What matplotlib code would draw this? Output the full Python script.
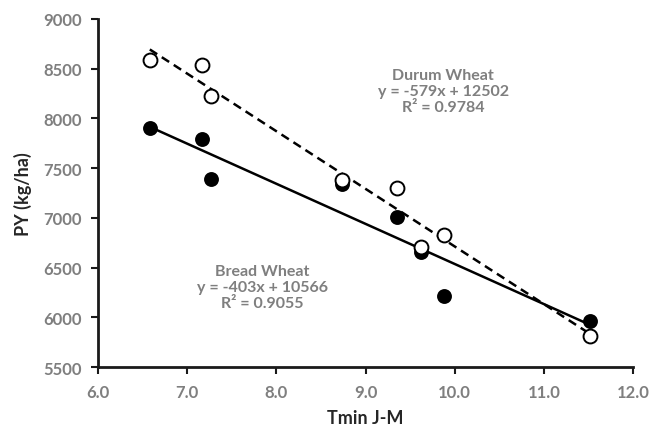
import numpy as np
import matplotlib
matplotlib.use('Agg')
from matplotlib import pyplot as plt

# Tmin J-M (same x for both series)
tmin = [6.58, 7.16, 7.27, 8.73, 9.35, 9.62, 9.88, 11.52]
# PY (kg/ha)
durum = [8585, 8535, 8222, 7385, 7300, 6710, 6828, 5812]
bread = [7898, 7792, 7392, 7340, 7008, 6652, 6215, 5962]

# trendline coefficients as printed on the chart
durum_slope, durum_icpt, durum_r2 = -579, 12502, 0.9784
bread_slope, bread_icpt, bread_r2 = -403, 10566, 0.9055

plt.rcParams['font.family'] = ['Lato', 'DejaVu Sans']

fig = plt.figure(figsize=(6.54, 4.31), dpi=100)
ax = fig.add_axes([0.15, 0.146, 0.818, 0.808])

x_line = np.array([min(tmin), max(tmin)])
ax.plot(x_line, durum_slope * x_line + durum_icpt, color='black', lw=1.8,
        ls=(0, (3.5, 2.2)), zorder=2)
ax.plot(x_line, bread_slope * x_line + bread_icpt, color='black', lw=1.8, zorder=2)

ax.plot(tmin, bread, 'o', color='black', ms=9.5, mew=1.2, mfc='black', zorder=3)
ax.plot(tmin, durum, 'o', color='black', ms=10, mew=1.4, mfc='white', zorder=4)

gray = '#7f7f7f'
ax.text(9.87, 8510, 'Durum Wheat\ny = %dx + %d\nR² = %.4f' % (durum_slope, durum_icpt, durum_r2),
        ha='center', va='top', color=gray, fontsize=11.5, fontweight='bold', linespacing=1.2)
ax.text(7.84, 6540, 'Bread Wheat\ny = %dx + %d\nR² = %.4f' % (bread_slope, bread_icpt, bread_r2),
        ha='center', va='top', color=gray, fontsize=11.5, fontweight='bold', linespacing=1.2)

ax.set_xlim(6.0, 12.0)
ax.set_ylim(5500, 9000)
ax.set_xticks(np.arange(6.0, 12.01, 1.0))
ax.set_xticklabels(['%.1f' % v for v in np.arange(6.0, 12.01, 1.0)])
ax.set_yticks(np.arange(5500, 9001, 500))

for s in ['top', 'right']:
    ax.spines[s].set_visible(False)
for s in ['left', 'bottom']:
    ax.spines[s].set_linewidth(2)
    ax.spines[s].set_color('#1a1a1a')
ax.tick_params(direction='out', length=5, width=1.5, color='#1a1a1a',
               labelcolor=gray, labelsize=12, pad=7)
for lab in ax.get_xticklabels() + ax.get_yticklabels():
    lab.set_fontweight('bold')

ax.set_xlabel('Tmin J-M', fontsize=13, fontweight='bold', color='#262626', labelpad=7)
ax.set_ylabel('PY (kg/ha)', fontsize=13, fontweight='bold', color='#262626', labelpad=8)

plt.savefig('out.png', dpi=100)
